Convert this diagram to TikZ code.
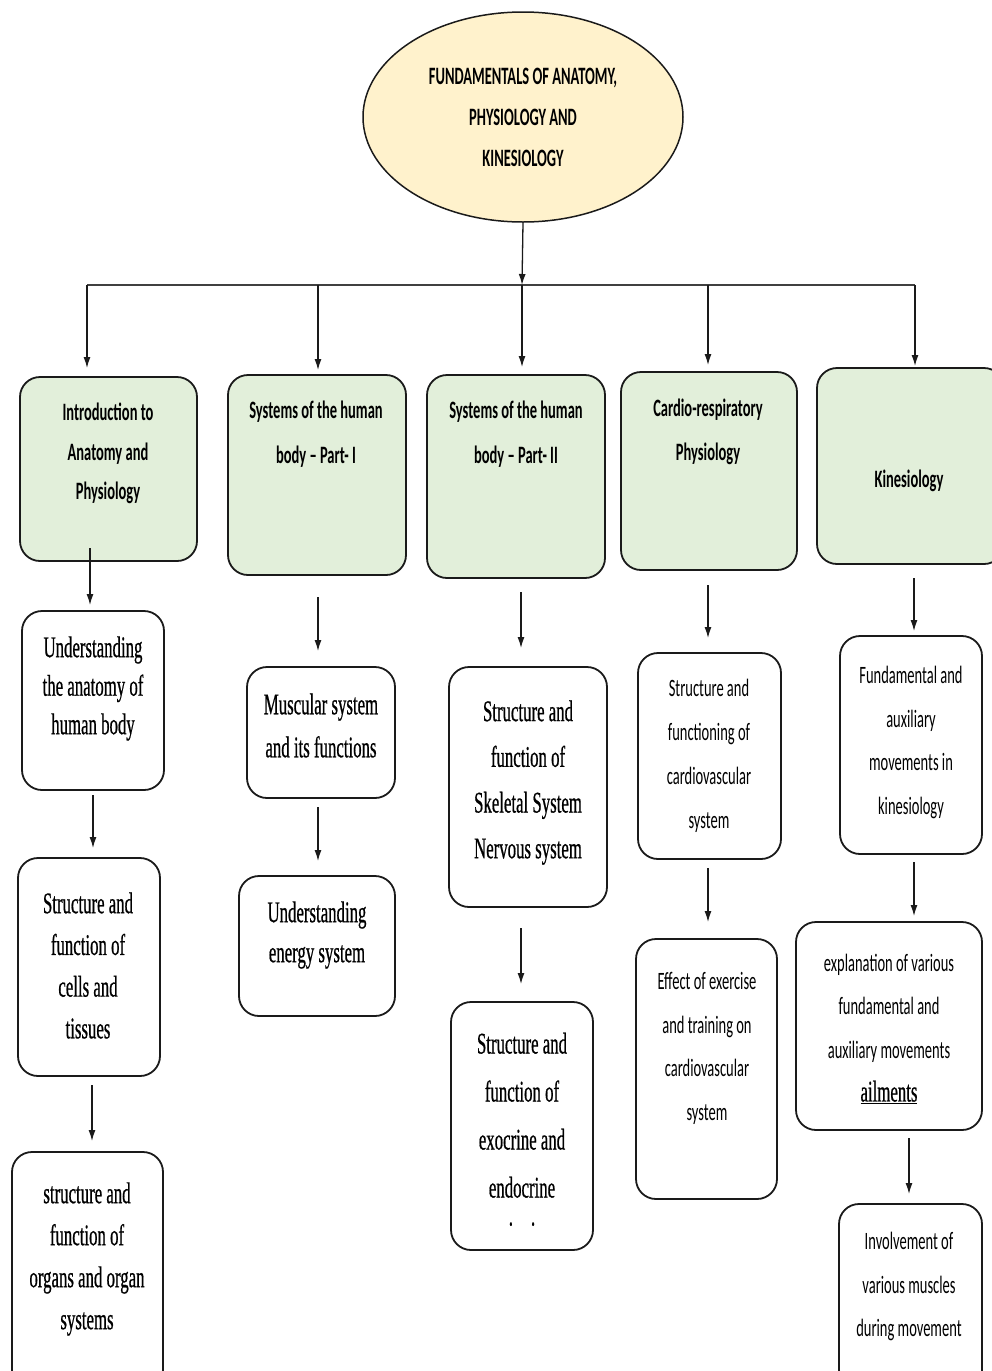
\documentclass[tikz,border=0pt]{standalone}
\usepackage{fontspec}
\usetikzlibrary{arrows.meta,shapes.geometric}
% narrow faces for all labels
\newfontfamily\calfont[FakeStretch=0.58]{Carlito}
\newfontfamily\timfont[FakeStretch=0.56,FakeBold=0.6]{Liberation Serif}
\definecolor{headfill}{HTML}{E2EFDA}
\definecolor{rootfill}{HTML}{FFF2CC}
\definecolor{inkline}{HTML}{1A1A1A}
\tikzset{
  box/.style={draw=inkline, line width=1.8pt, rounded corners=20pt, inner sep=0pt},
  headbox/.style={box, fill=headfill},
  stepbox/.style={box, fill=white},
  headtext/.style={align=center, inner sep=0pt, font=\calfont\bfseries\fontsize{25}{#1}\selectfont},
  headtext/.default=40,
  sanstext/.style={align=center, inner sep=0pt, font=\calfont\fontsize{25}{#1}\selectfont},
  sanstext/.default=44,
  seriftext/.style={align=center, inner sep=0pt, font=\timfont\fontsize{30}{#1}\selectfont},
  seriftext/.default=40,
  link/.style={draw=inkline, line width=1.3pt, -{Latex[length=11pt,width=7pt]}},
  bus/.style={draw=black!75, line width=2.4pt},
}
\begin{document}
\begin{tikzpicture}[x=1pt,y=-1pt]
\useasboundingbox (0,0) rectangle (992,1371);

% root
\node[ellipse, draw=inkline, line width=1.5pt, fill=rootfill, minimum width=320pt,
      minimum height=210pt, inner sep=0pt, headtext=41] (root) at (523,117)
      {FUNDAMENTALS OF ANATOMY,\\PHYSIOLOGY AND\\KINESIOLOGY};

% distribution bar
\coordinate (busL) at (87,285);
\coordinate (busB) at (318,285);
\coordinate (busM) at (522,285);
\coordinate (busD) at (708,285);
\coordinate (busR) at (915,285);
\draw[bus] (busL) -- (busR);
\draw[link] (root.south) -- (busM);

\coordinate (drop1) at (87,368);
\coordinate (drop2) at (318,370);
\coordinate (drop3) at (522,367);
\coordinate (drop4) at (708,365);
\coordinate (drop5) at (915,366);
\draw[link] (busL) -- (drop1);
\draw[link] (busB) -- (drop2);
\draw[link] (busM) -- (drop3);
\draw[link] (busD) -- (drop4);
\draw[link] (busR) -- (drop5);

% unit headings
\node[headbox, minimum width=177pt, minimum height=184pt] (g1) at (108.5,469) {};
\node[headbox, minimum width=178pt, minimum height=200pt] (g2) at (317,475) {};
\node[headbox, minimum width=178pt, minimum height=203pt] (g3) at (516,476.5) {};
\node[headbox, minimum width=176pt, minimum height=198pt] (g4) at (709,471) {};
\node[headbox, minimum width=187pt, minimum height=196pt] (g5) at (910.5,466) {};

\node[headtext=39.5] (g1t) at (108,453.5) {Introduction to\\Anatomy and\\Physiology};
\node[headtext=45] (g2t) at (316,434.5) {Systems of the human\\body – Part- I};
\node[headtext=45] (g3t) at (516,434.5) {Systems of the human\\body – Part- II};
\node[headtext=44] (g4t) at (708,432) {Cardio-respiratory\\Physiology};
\node[headtext] (g5t) at (909,481) {Kinesiology};

% column 1
\node[stepbox, minimum width=142pt, minimum height=179pt] (u1) at (93,700.5) {};
\node[stepbox, minimum width=142pt, minimum height=218pt] (u2) at (89,967) {};
\node[stepbox, minimum width=151pt, minimum height=238pt] (u3) at (87.5,1271) {};
\node[seriftext=38.5] (u1t) at (93,688.5) {Understanding\\the anatomy of\\human body};
\node[seriftext=41.7] (u2t) at (88,965.5) {Structure and\\function of\\cells and\\tissues};
\node[seriftext=42] (u3t) at (87,1259) {structure and\\function of\\organs and organ\\systems};

% column 2
\node[stepbox, minimum width=148pt, minimum height=131pt] (m1) at (321,732.5) {};
\node[stepbox, minimum width=156pt, minimum height=140pt] (m2) at (317,946) {};
\node[seriftext=43] (m1t) at (321,725.5) {Muscular system\\and its functions};
\node[seriftext=40] (m2t) at (317,935) {Understanding\\energy system};

% column 3
\node[stepbox, minimum width=158pt, minimum height=240pt] (s1) at (528,787) {};
\node[stepbox, minimum width=142pt, minimum height=248pt] (s2) at (522,1126) {};
\node[seriftext=45.7] (s1t) at (528,782.5) {Structure and\\function of\\Skeletal System\\Nervous system};
\node[seriftext=48, anchor=north] (s2t) at (522,1032.5)
  {Structure and\\function of\\exocrine and\\endocrine\\[-20pt].\hspace{18pt}.};

% column 4
\node[stepbox, minimum width=143pt, minimum height=206pt] (r1) at (709.5,756) {};
\node[stepbox, minimum width=141pt, minimum height=260pt] (r2) at (706.5,1069) {};
\node[sanstext=44] (r1t) at (709,756) {Structure and\\functioning of\\cardiovascular\\system};
\node[sanstext=43.7] (r2t) at (707,1048.5) {Effect of exercise\\and training on\\cardiovascular\\system};

% column 5
\node[stepbox, minimum width=142pt, minimum height=218pt] (k1) at (911,745) {};
\node[stepbox, minimum width=186pt, minimum height=208pt] (k2) at (889,1026) {};
\node[stepbox, minimum width=143pt, minimum height=186pt] (k3) at (910.5,1297) {};
\node[sanstext=43.7] (k1t) at (911,742.5) {Fundamental and\\auxiliary\\movements in\\kinesiology};
\node[sanstext=43.3] (k2t) at (889,1029) {explanation of various\\fundamental and\\auxiliary movements\\{\timfont\fontsize{30}{43}\selectfont\underline{ailments}}};
\node[sanstext=43.5] (k3t) at (909,1286.5) {Involvement of\\various muscles\\during movement};

% links between units and topics
\coordinate (a1s) at (90,548);   \coordinate (a1e) at (90,605);
\coordinate (a2s) at (93,795);   \coordinate (a2e) at (93,848);
\coordinate (a3s) at (92,1085);  \coordinate (a3e) at (92,1141);
\coordinate (b1s) at (318,597);  \coordinate (b1e) at (318,651);
\coordinate (b2s) at (318,807);  \coordinate (b2e) at (318,861);
\coordinate (c1s) at (521,592);  \coordinate (c1e) at (521,648);
\coordinate (c2s) at (521,928);  \coordinate (c2e) at (521,984);
\coordinate (d1s) at (708,585);  \coordinate (d1e) at (708,638);
\coordinate (d2s) at (708,868);  \coordinate (d2e) at (708,922);
\coordinate (e1s) at (914,578);  \coordinate (e1e) at (914,631);
\coordinate (e2s) at (914,862);  \coordinate (e2e) at (914,916);
\coordinate (e3s) at (909,1138); \coordinate (e3e) at (909,1194);
\foreach \p in {a1,a2,a3,b1,b2,c1,c2,d1,d2,e1,e2,e3}
  \draw[link] (\p s) -- (\p e);
\end{tikzpicture}
\end{document}
